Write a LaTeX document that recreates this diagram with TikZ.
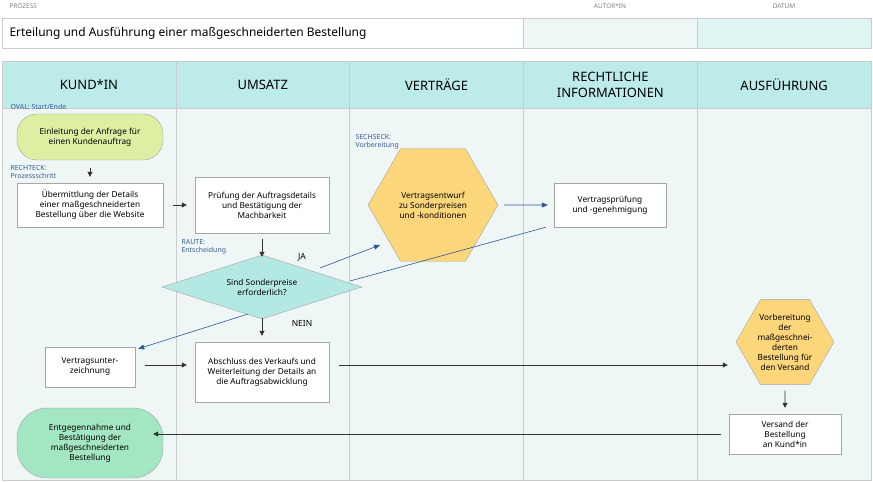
\documentclass[tikz,border=0pt]{standalone}
\usepackage{fontspec}
\setmainfont{Noto Sans}
\usetikzlibrary{shapes.geometric, arrows.meta, calc, positioning}
\definecolor{lanehead}{HTML}{BDEBEA}
\definecolor{lanebody}{HTML}{EEF7F5}
\definecolor{okgreen}{HTML}{DCEFA2}
\definecolor{endgreen}{HTML}{A3E6C2}
\definecolor{hexyellow}{HTML}{FCD67A}
\definecolor{decision}{HTML}{B4E8E2}
\definecolor{hintblue}{HTML}{3A5C9A}
\definecolor{flowblue}{HTML}{2F5597}
\tikzset{
	x=1bp, y=-1bp, % one unit per pixel
	every node/.style={font=\fontsize{8.3}{10}\selectfont, align=center}, % sets the text size
	proc/.style={draw=gray!70, fill=white, minimum height=#1, inner sep=2pt}, % process step
	oval/.style={draw=gray!70, rounded corners=20bp, minimum width=146bp, minimum height=#1}, % start and end
	hexa/.style={regular polygon, regular polygon sides=6, draw=gray!70, fill=hexyellow, inner sep=0pt, minimum size=#1}, % preparation
	hint/.style={text=hintblue, font=\fontsize{7}{8.5}\selectfont, align=left, anchor=west}, % small legend text
	lanetitle/.style={font=\fontsize{13}{15.5}\selectfont}, % lane header
	small head/.style={text=gray, font=\fontsize{6.5}{7}\selectfont},
	gray arrow/.style={-{Triangle[length=5bp,width=5bp]}, draw=gray!40!black, thick},
	blue arrow/.style={-{Triangle[length=6bp,width=5bp]}, draw=flowblue, semithick},
}
\begin{document}
\begin{tikzpicture}
	\useasboundingbox (0,0) rectangle (873,482);
	% header
	\node[small head, anchor=west] (prozess) at (6,6) {PROZESS};
	\node[small head] (autor) at (610,6) {AUTOR*IN};
	\node[small head] (datum) at (784,6) {DATUM};
	\draw[gray!40, fill=white] (2,18) rectangle (523,48);
	\draw[gray!40, fill=lanebody] (523,18) rectangle (697,48);
	\draw[gray!40, fill=lanehead!50] (697,18) rectangle (871,48);
	\node[anchor=west, font=\fontsize{12}{14}\selectfont] (titel) at (6,33) {Erteilung und Ausführung einer maßgeschneiderten Bestellung};

	% lanes
	\foreach \i/\name in {0/KUND*IN, 1/UMSATZ, 2/VERTRÄGE, 3/RECHTLICHE\\INFORMATIONEN, 4/AUSFÜHRUNG} {
		\draw[gray!40, fill=lanehead] (2+\i*173.8,61) rectangle ++(173.8,47);
		\draw[gray!40, fill=lanebody] (2+\i*173.8,108) rectangle ++(173.8,372);
		\node[lanetitle] at (89+\i*173.8,85) {\name};
	}

	% legend
	\node[hint] (hoval) at (7,107) {OVAL: Start/Ende};
	\node[hint] (hrect) at (7,172) {RECHTECK:\\Prozessschritt};
	\node[hint] (hraute) at (178,247) {RAUTE:\\Entscheidung};
	\node[hint] (hsechs) at (352,142) {SECHSECK:\\Vorbereitung};

	% shapes
	\node[oval=46bp, fill=okgreen] (start) at (90,137) {Einleitung der Anfrage für\\einen Kundenauftrag};
	\node[proc=44bp, minimum width=146bp] (senden) at (90,205) {Übermittlung der Details\\einer maßgeschneiderten\\Bestellung über die Website};
	\node[proc=56bp, minimum width=134bp] (pruefen) at (262,205) {Prüfung der Auftragsdetails\\und Bestätigung der\\Machbarkeit};
	\node[hexa=130bp] (entwurf) at (433,205) {Vertragsentwurf\\zu Sonderpreisen\\und -konditionen};
	\node[proc=44bp, minimum width=112bp] (genehm) at (610,205) {Vertragsprüfung\\und -genehmigung};
	\node[diamond, draw=gray!70, fill=decision, aspect=3.1, minimum width=200bp, minimum height=64bp, inner sep=0pt] (frage) at (262,287) {Sind Sonderpreise\\erforderlich?};
	\node[proc=40bp, minimum width=90bp] (zeichnen) at (90,367) {Vertragsunter-\\zeichnung};
	\node[proc=60bp, minimum width=134bp] (abschluss) at (262,372) {Abschluss des Verkaufs und\\Weiterleitung der Details an\\die Auftragsabwicklung};
	\node[hexa=98bp] (vorb) at (785,342) {Vorbereitung\\der\\maßgeschnei-\\derten\\Bestellung für\\den Versand};
	\node[proc=40bp, minimum width=112bp] (versand) at (785,434) {Versand der\\Bestellung\\an Kund*in};
	\node[oval=70bp, fill=endgreen, rounded corners=30bp] (ende) at (90,443) {Entgegennahme und\\Bestätigung der\\maßgeschneiderten\\Bestellung};
	\node[font=\bfseries\fontsize{8.5}{10}\selectfont] (ja) at (302,257) {JA};
	\node[font=\bfseries\fontsize{8.5}{10}\selectfont] (nein) at (302,323) {NEIN};

	% connectors
	\coordinate (jaout) at (320,268);
	\coordinate (rueck) at (350,281);
	\coordinate (neinout) at (248,314);
	\draw[gray arrow] ([yshift=-8bp]start.south) -- ([yshift=6bp]senden.north);
	\draw[gray arrow] ([xshift=10bp]senden.east) -- ([xshift=-8bp]pruefen.west);
	\draw[gray arrow] ([yshift=-6bp]pruefen.south) -- ([yshift=-2bp]frage.north);
	\draw[blue arrow] (jaout) -- (380,245);
	\draw[blue arrow] ([xshift=6bp]entwurf.east) -- ([xshift=-6bp]genehm.west);
	\draw[flowblue, semithick] ([xshift=-8bp]genehm.south west) -- (rueck);
	\draw[blue arrow] (neinout) -- ([xshift=3bp,yshift=-2bp]zeichnen.north east);
	\draw[gray arrow] ([yshift=1bp]frage.south) -- ([yshift=6bp]abschluss.north);
	\draw[gray arrow] ([xshift=10bp,yshift=2bp]zeichnen.east) -- ([xshift=-8bp,yshift=2bp]abschluss.west|-zeichnen.east);
	\draw[gray arrow] ([xshift=10bp,yshift=2bp]abschluss.east|-zeichnen.east) -- ([xshift=-8bp,yshift=2bp]vorb.west|-zeichnen.east);
	\draw[gray arrow] ([yshift=-6bp]vorb.south) -- ([yshift=6bp]versand.north);
	\draw[gray arrow] ([xshift=-8bp]versand.west) -- ([xshift=-10bp]ende.east|-versand.west);
\end{tikzpicture}
\end{document}
